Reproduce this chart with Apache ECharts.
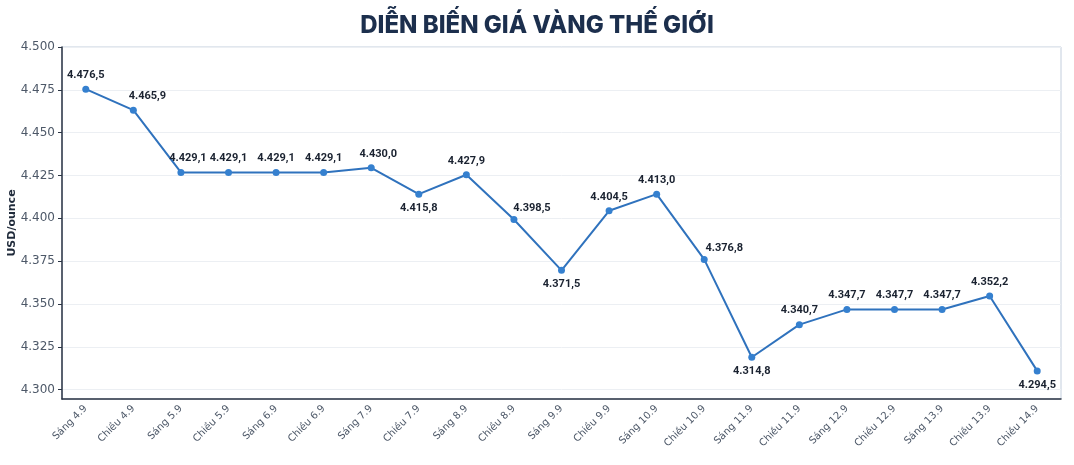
<!DOCTYPE html>
<html>
<head>
<meta charset="utf-8">
<title>Diễn biến giá vàng thế giới</title>
<script src="https://cdn.jsdelivr.net/npm/echarts@6/dist/echarts.min.js"></script>
<style>
    html, body { margin: 0; padding: 0; background: #fff; }
    #echarts { width: 1074px; height: 465px; }
</style>
</head>
<body>
<div id="echarts"></div>
<script>
// phiên giao dịch (trục X)
const sessions = [
    'Sáng 4.9', 'Chiều 4.9', 'Sáng 5.9', 'Chiều 5.9', 'Sáng 6.9', 'Chiều 6.9',
    'Sáng 7.9', 'Chiều 7.9', 'Sáng 8.9', 'Chiều 8.9', 'Sáng 9.9', 'Chiều 9.9',
    'Sáng 10.9', 'Chiều 10.9', 'Sáng 11.9', 'Chiều 11.9', 'Sáng 12.9', 'Chiều 12.9',
    'Sáng 13.9', 'Chiều 13.9', 'Chiều 14.9'
];

// giá in trên nhãn (USD/ounce)
const reportedPrices = [
    4476.5, 4465.9, 4429.1, 4429.1, 4429.1, 4429.1, 4430.0, 4415.8, 4427.9, 4398.5,
    4371.5, 4404.5, 4413.0, 4376.8, 4314.8, 4340.7, 4347.7, 4347.7, 4347.7, 4352.2,
    4294.5
];

// vị trí điểm như trên hình gốc
const plottedPrices = [
    4475.4, 4463.1, 4426.8, 4426.8, 4426.8, 4426.8, 4429.5, 4414.1, 4425.4, 4399.3,
    4369.6, 4404.4, 4414.1, 4376.0, 4318.9, 4337.9, 4346.8, 4346.8, 4346.8, 4354.6,
    4310.9
];

// trục Y
const yTicks = [4300, 4325, 4350, 4375, 4400, 4425, 4450, 4475, 4500];
const yMin = 4294.5;
const yMax = 4500;

// nhãn nằm dưới điểm / lệch sang phải
const labelsBelow = [7, 10, 14, 20];
const labelShift = { 1: [14, 0], 2: [7, 0], 6: [7, 0], 9: [18, 3], 13: [20, 3] };

let fmtNum = function (n, digits) {
    let s = n.toFixed(digits).split('.');
    let int = s[0].replace(/\B(?=(\d{3})+(?!\d))/g, '.');
    return s.length > 1 ? int + ',' + s[1] : int;
};

let buildSeriesData = function () {
    return plottedPrices.map((v, i) => {
        let item = { value: v, label: {} };
        if (labelsBelow.indexOf(i) >= 0) {
            item.label.position = 'bottom';
        }
        if (labelShift[i]) {
            item.label.offset = labelShift[i];
        }
        return item;
    });
};

let createEchart = function (domId, option) {
    let chart = echarts.init(document.getElementById(domId), null, { renderer: 'canvas' });
    chart.setOption(option);
    return chart;
};

let goldChart = function () {
    return {
        backgroundColor: '#ffffff',
        animation: false,
        title: {
            text: 'DIỄN BIẾN GIÁ VÀNG THẾ GIỚI',
            left: 'center',
            top: 9,
            textStyle: {
                fontFamily: 'Inter',
                fontWeight: 800,
                fontSize: 24,
                color: '#1c2f4d'
            }
        },
        grid: {
            left: 62,
            right: 13,
            top: 47,
            bottom: 66,
            outerBoundsMode: 'none',
            containLabel: false,
            show: true,
            borderColor: '#c3cedd',
            borderWidth: 1
        },
        xAxis: {
            type: 'category',
            data: sessions,
            boundaryGap: true,
            axisLine: { lineStyle: { color: '#2b3544', width: 1.5 } },
            axisTick: { alignWithLabel: true, length: 4, lineStyle: { color: '#2b3544' } },
            axisLabel: {
                interval: 0,
                rotate: 45,
                margin: 8,
                fontFamily: 'DejaVu Sans',
                fontSize: 10,
                color: '#4d5868'
            }
        },
        yAxis: {
            type: 'value',
            min: yMin,
            max: yMax,
            name: 'USD/ounce',
            nameLocation: 'middle',
            nameGap: 44,
            nameMoveOverlap: false,
            nameTextStyle: {
                fontFamily: 'DejaVu Sans',
                fontWeight: 'bold',
                fontSize: 11,
                color: '#1f2a3a'
            },
            axisLine: { show: true, lineStyle: { color: '#2b3544', width: 1.5 } },
            axisTick: { show: true, length: 4, customValues: yTicks, lineStyle: { color: '#2b3544' } },
            axisLabel: {
                customValues: yTicks,
                fontFamily: 'DejaVu Sans',
                fontSize: 12,
                color: '#4d5868',
                margin: 7,
                formatter: function (v) {
                    return fmtNum(v, 0);
                }
            },
            splitLine: { lineStyle: { color: '#eceff3', width: 1 } }
        },
        series: [{
            type: 'line',
            data: buildSeriesData(),
            symbol: 'circle',
            symbolSize: 7,
            lineStyle: { color: '#2f72bd', width: 2 },
            itemStyle: { color: '#3580cf' },
            label: {
                show: true,
                position: 'top',
                distance: 5,
                fontFamily: 'Roboto',
                fontWeight: 'bold',
                fontSize: 11,
                color: '#1a2230',
                formatter: function (p) {
                    return fmtNum(reportedPrices[p.dataIndex], 1);
                }
            }
        }]
    };
};

window.onload = function () {
    createEchart('echarts', goldChart());
};
</script>
</body>
</html>
